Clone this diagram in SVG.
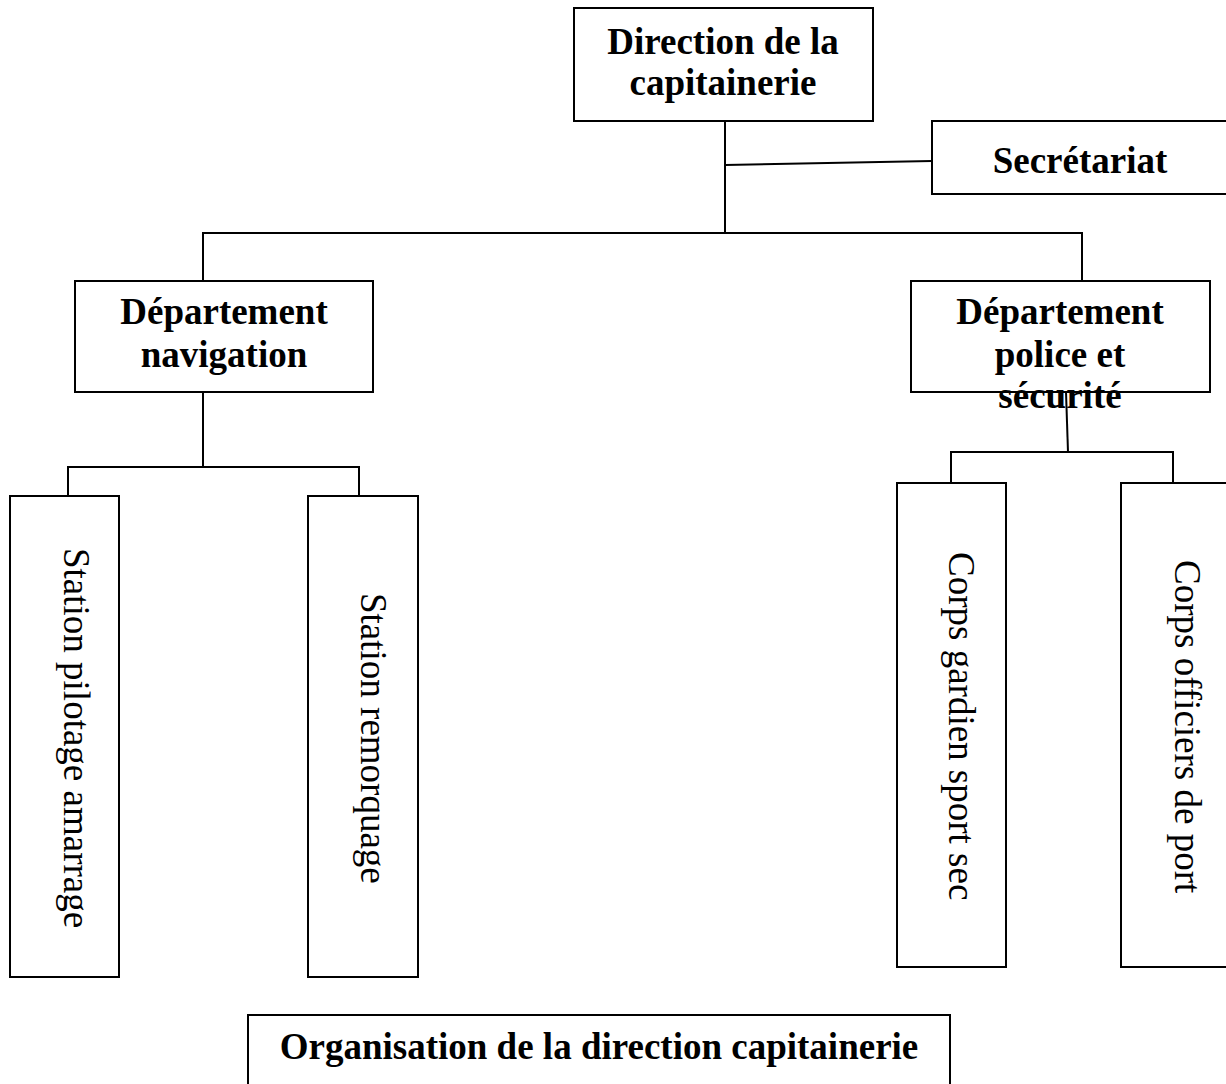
<svg xmlns="http://www.w3.org/2000/svg" width="1226" height="1084" viewBox="0 0 1226 1084">
<style>
.box{fill:#fff;stroke:#000;stroke-width:2}
.ln{stroke:#000;stroke-width:2;fill:none}
.b{font-family:"Liberation Serif","Times New Roman",serif;font-weight:bold;font-size:37px;text-anchor:middle;fill:#000}
.v{font-family:"Liberation Serif","Times New Roman",serif;font-size:37px;fill:#000}
</style>
<rect width="1226" height="1084" fill="#fff"/>
<g id="connectors">
<line class="ln" x1="725" y1="121" x2="725" y2="233"/>
<line class="ln" x1="725" y1="165" x2="932" y2="161"/>
<polyline class="ln" points="203,281 203,233 1082,233 1082,281"/>
<line class="ln" x1="203" y1="392" x2="203" y2="467"/>
<polyline class="ln" points="68,496 68,467 359,467 359,496"/>
<line class="ln" x1="1066" y1="392" x2="1068" y2="452"/>
<polyline class="ln" points="951,483 951,452 1173,452 1173,483"/>
</g>
<g id="direction">
<rect class="box" x="574" y="8" width="299" height="113"/>
<text class="b" x="723" y="54">Direction de la</text>
<text class="b" x="723" y="95">capitainerie</text>
</g>
<g id="secretariat">
<rect class="box" x="932" y="121" width="296" height="73"/>
<text class="b" x="1080" y="173">Secrétariat</text>
</g>
<g id="dept-navigation">
<rect class="box" x="75" y="281" width="298" height="111"/>
<text class="b" x="224" y="324">Département</text>
<text class="b" x="224" y="367">navigation</text>
</g>
<g id="dept-police">
<rect class="box" x="911" y="281" width="299" height="111"/>
<text class="b" x="1060" y="324">Département</text>
<text class="b" x="1060" y="367">police et</text>
<text class="b" x="1060" y="408">sécurité</text>
</g>
<g id="station-pilotage">
<rect class="box" x="10" y="496" width="109" height="481"/>
<text class="v" transform="translate(64,548) rotate(90)">Station pilotage amarrage</text>
</g>
<g id="station-remorquage">
<rect class="box" x="308" y="496" width="110" height="481"/>
<text class="v" transform="translate(361,593) rotate(90)">Station remorquage</text>
</g>
<g id="corps-gardien">
<rect class="box" x="897" y="483" width="109" height="484"/>
<text class="v" transform="translate(949,552) rotate(90)">Corps gardien sport sec</text>
</g>
<g id="corps-officiers">
<rect class="box" x="1121" y="483" width="110" height="484"/>
<text class="v" transform="translate(1175,560) rotate(90)">Corps officiers de port</text>
</g>
<g id="caption">
<rect class="box" x="248" y="1015" width="702" height="80"/>
<text class="b" x="599" y="1059">Organisation de la direction capitainerie</text>
</g>
</svg>
